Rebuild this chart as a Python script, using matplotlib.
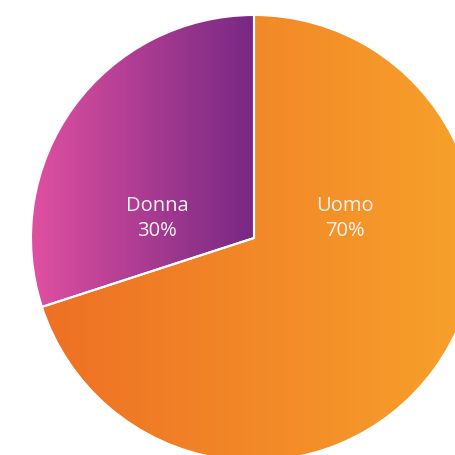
'''
Pie chart of Uomo / Donna split, with horizontal gradient fills.
'''

import numpy as np
import matplotlib.pyplot as plt
from matplotlib.colors import LinearSegmentedColormap

# data
labels = ['Uomo', 'Donna']
shares = [70, 30]
# gradient colours (left -> right) for each slice
grad_left = ['#ee7024', '#e050a1']
grad_right = ['#f7a22b', '#772883']

fig = plt.figure(figsize=(4.55, 4.55), dpi=100)
ax = fig.add_axes([0, 0, 1, 1])

# pie starts at 12 o'clock; Uomo goes clockwise, Donna fills the rest
wedges, _ = ax.pie(shares, startangle=90, counterclock=False, radius=1,
                   wedgeprops=dict(edgecolor='white', linewidth=1.5))

for w, c0, c1 in zip(wedges, grad_left, grad_right):
    w.set_facecolor('none')
    # horizontal gradient over the wedge's own x range
    th1, th2 = np.radians(w.theta1), np.radians(w.theta2)
    angs = np.linspace(th1, th2, 200)
    xs = np.concatenate([[0], w.r * np.cos(angs)])
    x0, x1 = xs.min(), xs.max()
    cmap = LinearSegmentedColormap.from_list('g', [c0, c1])
    grad = np.linspace(0, 1, 256).reshape(1, -1)
    im = ax.imshow(grad, cmap=cmap, extent=[x0, x1, -1, 1], aspect='auto',
                   interpolation='bicubic', zorder=0)
    im.set_clip_path(w)
    w.set_zorder(2)

# labels sit on one row, left and right of the centre
label_x = {'Uomo': 0.41, 'Donna': -0.435}
for lab, val in zip(labels, shares):
    ax.text(label_x[lab], 0.088, '{}\n{}%'.format(lab, val), color='#fbf3f0',
            ha='center', va='center', fontsize=14.5, family='Open Sans',
            linespacing=1.32, zorder=3)

# frame the view the same way as the original (pie runs off right/bottom)
r_px = 223.0
cx, cy = 254.0, 238.0
ax.set_xlim(-cx / r_px, (455 - cx) / r_px)
ax.set_ylim(-(455 - cy) / r_px, cy / r_px)
ax.set_aspect('equal')
ax.axis('off')

fig.savefig('out.png', dpi=100)
